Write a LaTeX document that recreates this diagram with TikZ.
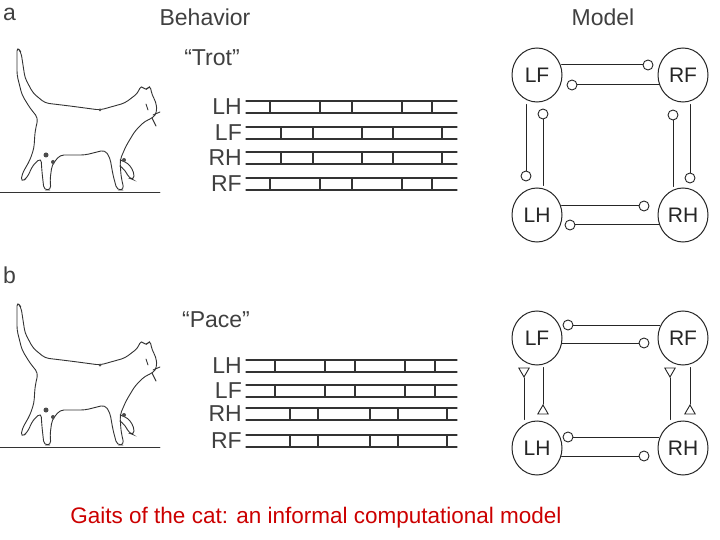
\documentclass[tikz,border=0pt]{standalone}
\usepackage{fontspec}
\setmainfont{Liberation Sans}
\usetikzlibrary{shapes.geometric}
\begin{document}
\begin{tikzpicture}[x=1pt,y=-1pt,line cap=round,
  txt/.style={text=black!75,font=\fontsize{23}{23}\selectfont,inner sep=0},
  leg/.style={draw=black!85,ellipse,minimum width=50pt,minimum height=54pt,line width=1pt,text=black!85,font=\fontsize{21}{21}\selectfont,inner sep=0},
  sc/.style={draw=black!85,circle,minimum size=10pt,inner sep=0,line width=0.9pt},
  tri/.style={draw=black!85,regular polygon,regular polygon sides=3,minimum size=12pt,inner sep=0,line width=0.9pt},
  cn/.style={draw=black!85,line width=1pt},
  bar/.style={draw=black!80,line width=1.3pt},
  catl/.style={draw=black!80,line width=0.9pt,rounded corners=4pt}]
\useasboundingbox (0,0) rectangle (720,540);
\fill[white] (0,0) rectangle (720,540);
% headings
\node[txt,anchor=west] (la) at (3,14) {a};
\node[txt] (beh) at (205,17) {Behavior};
\node[txt] (mod) at (603,17) {Model};
\node[txt] (trot) at (212,58) {“Trot”};
\node[txt,anchor=west] (lb) at (3,275) {b};
\node[txt] (pace) at (216,320) {“Pace”};
\node[text=red!80!black,font=\fontsize{22.5}{22}\selectfont] (cap) at (316,518) {Gaits of the cat: an informal computational model};
% cats
\foreach \dy in {0,255}{
\begin{scope}[yshift=-\dy]
\draw[catl] (0,192) -- (160,192);
\draw[catl] (38,118) -- (30,108) -- (22,95) -- (17,75) -- (17,47) -- (21,52) -- (25,78) -- (33,93) -- (45,103)
  -- (70,106) -- (100,110) -- (125,103) -- (138,93) -- (141,85) -- (146,91) -- (150,85) -- (152,95)
  -- (156,102) -- (157,112) -- (153,118) -- (145,121) -- (135,131) -- (126,146)
  -- (120,160) -- (121,176) -- (124,190) -- (117,190) -- (113,175) -- (110,158) -- (105,150)
  -- (85,155) -- (60,155) -- (52,165) -- (50,180) -- (51,190) -- (44,190) -- (42,172) -- (41,158)
  -- (33,165) -- (27,178) -- (21,182) -- (22,174) -- (30,160) -- (34,148) -- (35,132) -- cycle;
\draw[catl] (120,160) -- (128,163) -- (134,172) -- (134,180) -- (129,178) -- (125,170) -- (120,166);
\draw[catl,rounded corners=0] (152,118) -- (156,126) (153,115) -- (160,112) (148,110) -- (146,104);
\fill[black!70] (46,155) circle (2.5) (53,162) circle (2) (124,160) circle (2) (100,110) circle (1.5);
\end{scope}}
% gait bars
\newcommand{\gaitrow}[3]{%
  \draw[bar] (246,#1) -- (457,#1) (246,#1+12) -- (457,#1+12);
  \foreach \t in {#2} \draw[bar] (\t,#1) -- (\t,#1+12);
  \node[txt,anchor=east] at (242,#1+6) {#3};}
\gaitrow{101}{270,320,352,402,432}{LH}
\gaitrow{127}{281,313,362,393,442}{LF}
\gaitrow{152}{281,313,362,393,442}{RH}
\gaitrow{178}{270,320,352,402,432}{RF}
\gaitrow{360}{275,325,355,405,435}{LH}
\gaitrow{385}{275,325,355,405,435}{LF}
\gaitrow{408}{290,318,370,398,447}{RH}
\gaitrow{435}{290,318,370,398,447}{RF}
% model a
\node[leg] (LFa) at (537,75) {LF};
\node[leg] (RFa) at (683,75) {RF};
\node[leg] (LHa) at (537,215) {LH};
\node[leg] (RHa) at (683,215) {RH};
\node[sc] (s1) at (648,65) {};
\node[sc] (s2) at (572,85) {};
\node[sc] (s3) at (526,176) {};
\node[sc] (s4) at (543,114) {};
\node[sc] (s5) at (673,115) {};
\node[sc] (s6) at (690,178) {};
\node[sc] (s7) at (644,206) {};
\node[sc] (s8) at (570,225) {};
\draw[cn] ([xshift=-1pt]LFa.east |- s1) -- (s1);
\draw[cn] ([xshift=2pt]RFa.west |- s2) -- (s2);
\draw[cn] ([yshift=-2pt]s3 |- LFa.south) -- (s3);
\draw[cn] ([yshift=2pt]s4 |- LHa.north) -- (s4);
\draw[cn] ([yshift=1pt]s5 |- RHa.north) -- (s5);
\draw[cn] ([yshift=-2pt]s6 |- RFa.south) -- (s6);
\draw[cn] ([xshift=-1pt]LHa.east |- s7) -- (s7);
\draw[cn] ([xshift=1pt]RHa.west |- s8) -- (s8);
% model b
\node[leg] (LFb) at (537,338) {LF};
\node[leg] (RFb) at (683,338) {RF};
\node[leg] (LHb) at (537,448) {LH};
\node[leg] (RHb) at (683,448) {RH};
\node[sc] (t1) at (568,325) {};
\node[sc] (t2) at (644,343) {};
\node[sc] (t3) at (568,437) {};
\node[sc] (t4) at (644,456) {};
\node[tri,rotate=180] (d1) at (524,371) {};
\node[tri] (u1) at (543,411) {};
\node[tri,rotate=180] (d2) at (670,371) {};
\node[tri] (u2) at (690,411) {};
\draw[cn] (t1) -- ([xshift=2pt]RFb.west |- t1);
\draw[cn] ([xshift=-1pt]LFb.east |- t2) -- (t2);
\draw[cn] (t3) -- ([xshift=1pt]RHb.west |- t3);
\draw[cn] ([xshift=-1pt]LHb.east |- t4) -- (t4);
\draw[cn] (d1) -- ([yshift=1pt]d1 |- LHb.north);
\draw[cn] ([yshift=-2pt]u1 |- LFb.south) -- (u1);
\draw[cn] (d2) -- ([yshift=1pt]d2 |- RHb.north);
\draw[cn] ([yshift=-2pt]u2 |- RFb.south) -- (u2);
\end{tikzpicture}
\end{document}
